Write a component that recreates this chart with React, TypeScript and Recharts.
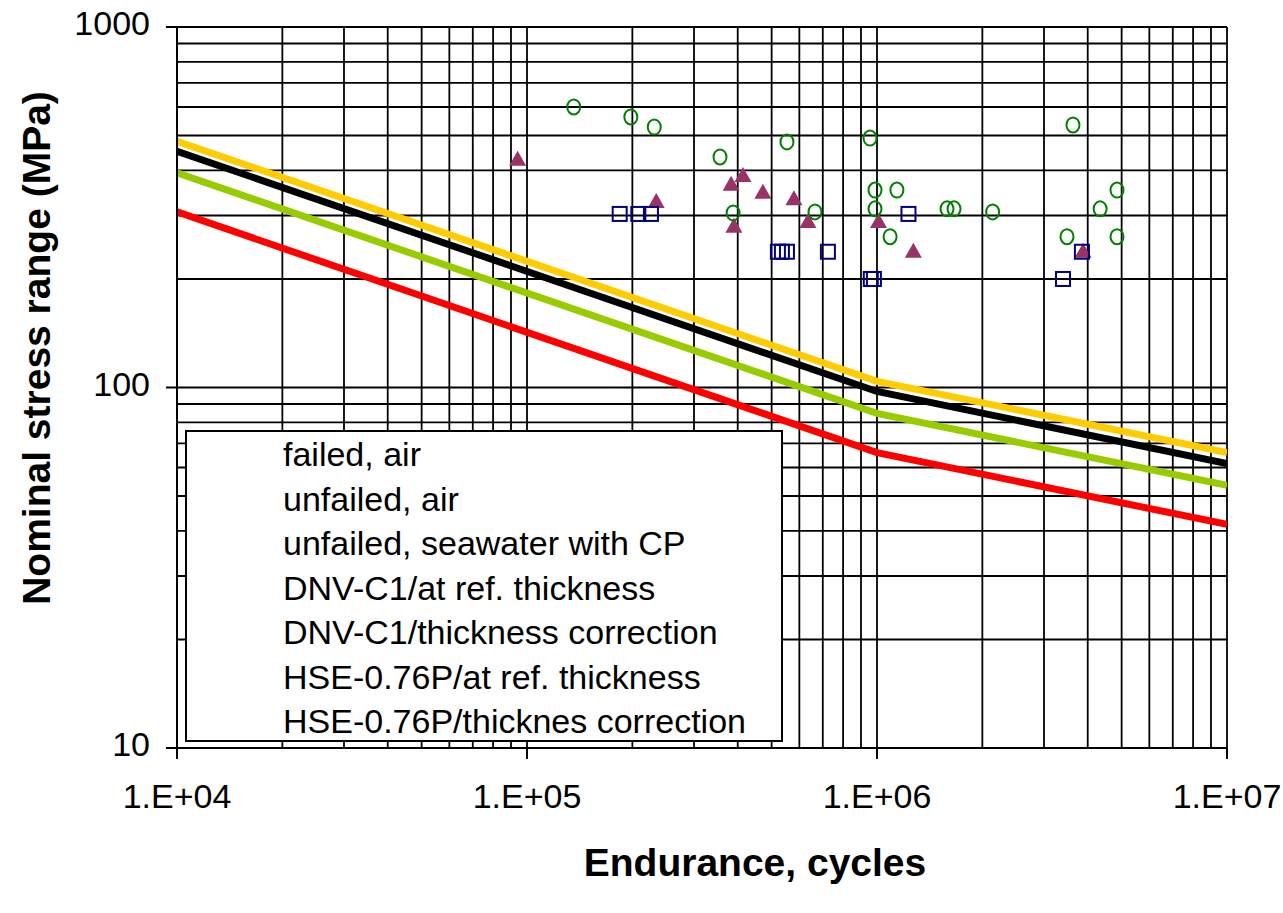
import { ComposedChart, XAxis, YAxis, CartesianGrid, Scatter, Line, Label } from 'recharts'

// log grid positions
const xGrid = [
  1e4, 2e4, 3e4, 4e4, 5e4, 6e4, 7e4, 8e4, 9e4,
  1e5, 2e5, 3e5, 4e5, 5e5, 6e5, 7e5, 8e5, 9e5,
  1e6, 2e6, 3e6, 4e6, 5e6, 6e6, 7e6, 8e6, 9e6, 1e7,
]
const yGrid = [
  10, 20, 30, 40, 50, 60, 70, 80, 90,
  100, 200, 300, 400, 500, 600, 700, 800, 900, 1000,
]

// test results
const failedAirN = [9.4e4, 2.34e5, 3.83e5, 4.14e5, 4.72e5, 5.79e5, 3.9e5, 6.35e5, 1.01e6, 1.27e6, 3.88e6]
const failedAirS = [428, 327, 365, 386, 347, 333, 279, 288, 288, 238, 238]

const unfailedAirN = [
  1.36e5, 1.98e5, 2.31e5, 3.56e5, 3.88e5, 5.53e5, 6.65e5, 9.55e5, 9.87e5, 9.87e5,
  1.09e6, 1.14e6, 1.585e6, 1.66e6, 2.14e6, 3.49e6, 3.63e6, 4.34e6, 4.85e6, 4.85e6,
]
const unfailedAirS = [600, 563, 528, 436, 305, 480, 307, 492, 353, 313, 262, 353, 313, 313, 307, 262, 535, 313, 353, 262]

const seawaterN = [1.84e5, 2.08e5, 2.26e5, 5.21e5, 5.35e5, 5.53e5, 7.24e5, 9.6e5, 9.8e5, 1.23e6, 3.4e6, 3.85e6]
const seawaterS = [303, 303, 303, 238, 238, 238, 238, 200, 200, 303, 200, 238]

// design curves (knee at 1e6 cycles)
const curveN = [1e4, 1e6, 1e7]
const dnvRefS = [482, 104, 66]
const dnvCorrS = [452, 97.5, 61.5]
const hseRefS = [394, 84.8, 53.5]
const hseCorrS = [307, 66, 41.7]

const legendLabels = [
  'failed, air',
  'unfailed, air',
  'unfailed, seawater with CP',
  'DNV-C1/at ref. thickness',
  'DNV-C1/thickness correction',
  'HSE-0.76P/at ref. thickness',
  'HSE-0.76P/thicknes correction',
]

const zip = (xs: number[], ys: number[]) => xs.map((x, i) => ({ x, y: ys[i] }))

const FONT = '"Liberation Sans", Arial, sans-serif'
const isDecade = (v: number) => Math.abs(Math.log10(v) - Math.round(Math.log10(v))) < 1e-9

function XTick(props: any) {
  const { x, y, payload } = props
  if (!isDecade(payload.value)) return null
  const exp = Math.round(Math.log10(payload.value))
  return (
    <g>
      <line x1={x} x2={x} y1={y} y2={y + 11} stroke="#000" strokeWidth={2} />
      <text x={x} y={y + 60} textAnchor="middle" fontSize={34} fontFamily={FONT} fill="#000">
        {`1.E+${String(exp).padStart(2, '0')}`}
      </text>
    </g>
  )
}

function YTick(props: any) {
  const { x, y, payload } = props
  if (!isDecade(payload.value)) return null
  return (
    <g>
      <line x1={x - 11} x2={x} y1={y} y2={y} stroke="#000" strokeWidth={2} />
      <text x={x - 27} y={y + 8} textAnchor="end" fontSize={34} fontFamily={FONT} fill="#000">
        {payload.value}
      </text>
    </g>
  )
}

const Triangle = (p: any) => (
  <polygon
    points={`${p.cx},${p.cy - 9} ${p.cx - 8.5},${p.cy + 6} ${p.cx + 8.5},${p.cy + 6}`}
    fill="#993366"
  />
)
const Circle = (p: any) => (
  <ellipse cx={p.cx} cy={p.cy} rx={6.5} ry={7.5} fill="none" stroke="#008000" strokeWidth={2} />
)
const Square = (p: any) => (
  <rect x={p.cx - 7} y={p.cy - 7} width={14} height={14} fill="none" stroke="#000080" strokeWidth={2} />
)

function LegendBox() {
  return (
    <div
      style={{
        position: 'absolute',
        left: 185,
        top: 430,
        width: 594,
        height: 308,
        border: '2px solid #000',
        background: '#fff',
        fontFamily: FONT,
        fontSize: 34,
        color: '#000',
      }}
    >
      {legendLabels.map((l) => (
        <div key={l} style={{ marginLeft: 96, height: 44.5, lineHeight: '44.5px', whiteSpace: 'nowrap' }}>
          {l}
        </div>
      ))}
    </div>
  )
}

export default function App() {
  return (
    <div style={{ position: 'absolute', left: 0, top: 0, width: 1283, height: 913, background: '#fff' }}>
      <ComposedChart width={1283} height={913} margin={{ top: 27, right: 56, bottom: 0, left: 0 }}>
        <CartesianGrid stroke="#000" strokeWidth={1.8} />
        <XAxis
          dataKey="x"
          type="number"
          scale="log"
          domain={[1e4, 1e7]}
          ticks={xGrid}
          interval={0}
          allowDataOverflow
          height={165}
          tickSize={0}
          tickMargin={0}
          tickLine={false}
          tick={<XTick />}
          axisLine={{ stroke: '#000', strokeWidth: 2 }}
        >
          <Label
            content={() => (
              <text x={755} y={876} textAnchor="middle" fontSize={39} fontWeight="bold" fontFamily={FONT} fill="#000">
                Endurance, cycles
              </text>
            )}
          />
        </XAxis>
        <YAxis
          dataKey="y"
          type="number"
          scale="log"
          domain={[10, 1000]}
          ticks={yGrid}
          interval={0}
          allowDataOverflow
          width={177}
          tickSize={0}
          tickMargin={0}
          tickLine={false}
          tick={<YTick />}
          axisLine={{ stroke: '#000', strokeWidth: 2 }}
        >
          <Label
            content={() => (
              <text
                x={50}
                y={348}
                transform="rotate(-90 50 348)"
                textAnchor="middle"
                fontSize={39}
                fontWeight="bold"
                fontFamily={FONT}
                fill="#000"
              >
                Nominal stress range (MPa)
              </text>
            )}
          />
        </YAxis>
        <Scatter data={zip(failedAirN, failedAirS)} shape={Triangle} fill="#993366" legendType="none" isAnimationActive={false} />
        <Scatter data={zip(unfailedAirN, unfailedAirS)} shape={Circle} legendType="none" isAnimationActive={false} />
        <Scatter data={zip(seawaterN, seawaterS)} shape={Square} legendType="none" isAnimationActive={false} />
        <Line data={zip(curveN, hseCorrS)} dataKey="y" stroke="#ff0000" strokeWidth={7} dot={false} legendType="none" isAnimationActive={false} />
        <Line data={zip(curveN, hseRefS)} dataKey="y" stroke="#99cc00" strokeWidth={7} dot={false} legendType="none" isAnimationActive={false} />
        <Line data={zip(curveN, dnvCorrS)} dataKey="y" stroke="#000000" strokeWidth={7} dot={false} legendType="none" isAnimationActive={false} />
        <Line data={zip(curveN, dnvRefS)} dataKey="y" stroke="#ffcc00" strokeWidth={7} dot={false} legendType="none" isAnimationActive={false} />
      </ComposedChart>
      <LegendBox />
    </div>
  )
}
